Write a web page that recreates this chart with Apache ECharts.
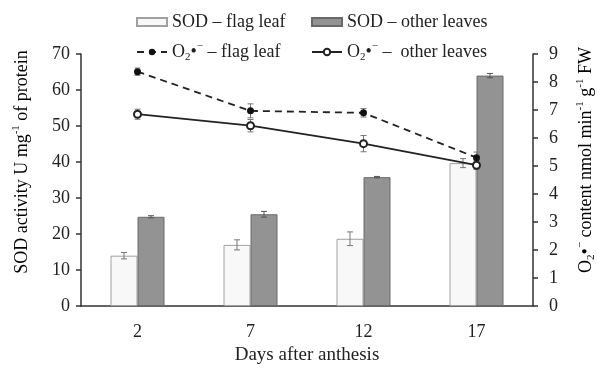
<!DOCTYPE html>
<html>
<head>
<meta charset="utf-8">
<script src="https://cdn.jsdelivr.net/npm/echarts@6/dist/echarts.min.js"></script>
<style>html,body{margin:0;padding:0;background:#fff;}#c{width:597px;height:370px;}</style>
</head>
<body>
<div id="c"></div>
<script>
const categories = ['2', '7', '12', '17'];
const sodFlag = [14.0, 17.0, 18.7, 39.7];
const sodFlagErr = [0.9, 1.4, 1.9, 1.25];
const sodOther = [24.8, 25.5, 35.8, 64.0];
const sodOtherErr = [0.3, 0.8, 0.2, 0.6];
const o2Flag = [8.37, 6.97, 6.90, 5.30];
const o2FlagErr = [0.13, 0.25, 0.15, 0.2];
const o2Other = [6.85, 6.44, 5.80, 5.03];
const o2OtherErr = [0.18, 0.22, 0.29, 0.15];
const leftTicks = { min: 0, max: 70, interval: 10 };
const rightTicks = { min: 0, max: 9, interval: 1 };

const FONT = 'Liberation Serif';
const BAR_W = 27;

function errData(vals, errs) { return vals.map((v, i) => [i, v, errs[i]]); }
function errRender(offset, color) {
  return function (params, api) {
    const x = api.value(0), v = api.value(1), e = api.value(2);
    const hi = api.coord([x, v + e]);
    const lo = api.coord([x, v - e]);
    const cx = hi[0] + offset;
    const cap = 3;
    const st = { stroke: color, lineWidth: 1 };
    return {
      type: 'group',
      children: [
        { type: 'line', shape: { x1: cx, y1: hi[1], x2: cx, y2: lo[1] }, style: st },
        { type: 'line', shape: { x1: cx - cap, y1: hi[1], x2: cx + cap, y2: hi[1] }, style: st },
        { type: 'line', shape: { x1: cx - cap, y1: lo[1], x2: cx + cap, y2: lo[1] }, style: st }
      ]
    };
  };
}

const richBase = {
  t: { fontFamily: FONT, fontSize: 18, color: '#222', lineHeight: 22 },
  sub: { fontFamily: FONT, fontSize: 11, color: '#222', lineHeight: 11, verticalAlign: 'bottom' },
  sup: { fontFamily: FONT, fontSize: 11, color: '#222', lineHeight: 11, verticalAlign: 'top' }
};
const legendLabels = {
  'SOD flag': '{t|SOD – flag leaf}',
  'SOD other': '{t|SOD – other leaves}',
  'O2 flag': '{t|O}{sub|2}{t|•}{sup|−}{t| – flag leaf}',
  'O2 other': '{t|O}{sub|2}{t|•}{sup|−}{t| –  other leaves}'
};
function mkLegend(name, left, top, icon) {
  const l = {
    data: [name], left: left, top: top, itemWidth: 30, itemHeight: 8,
    formatter: n => legendLabels[n],
    textStyle: { rich: richBase, fontFamily: FONT, fontSize: 18, color: '#222' }
  };
  if (icon) l.icon = icon;
  return l;
}

const chart = echarts.init(document.getElementById('c'));
const axisLineStyle = { color: '#333', width: 1.5 };
const labelStyle = { fontFamily: FONT, fontSize: 18, color: '#222' };

chart.setOption({
  animation: false,
  backgroundColor: '#fff',
  grid: { left: 81, right: 64, top: 54, bottom: 56 },
  legend: [
    mkLegend('SOD flag', 131, 8, 'rect'),
    mkLegend('SOD other', 306, 8, 'rect'),
    mkLegend('O2 flag', 131, 36),
    mkLegend('O2 other', 306, 36)
  ],
  xAxis: {
    type: 'category', data: categories, boundaryGap: true,
    axisLine: { lineStyle: axisLineStyle },
    axisTick: { show: false },
    axisLabel: Object.assign({ margin: 17 }, labelStyle),
    name: 'Days after anthesis', nameLocation: 'middle', nameGap: 38,
    nameTextStyle: { fontFamily: FONT, fontSize: 19, color: '#222' }
  },
  yAxis: [
    {
      type: 'value', min: leftTicks.min, max: leftTicks.max, interval: leftTicks.interval,
      axisLine: { show: true, lineStyle: axisLineStyle },
      axisTick: { show: true, length: 5, lineStyle: axisLineStyle },
      axisLabel: Object.assign({ margin: 11 }, labelStyle),
      splitLine: { show: false }
    },
    {
      type: 'value', min: rightTicks.min, max: rightTicks.max, interval: rightTicks.interval,
      position: 'right',
      axisLine: { show: true, lineStyle: axisLineStyle },
      axisTick: { show: true, length: 5, lineStyle: axisLineStyle },
      axisLabel: Object.assign({ margin: 16 }, labelStyle),
      splitLine: { show: false }
    }
  ],
  graphic: [
    {
      type: 'text', x: 22, y: 162, rotation: Math.PI / 2,
      style: {
        text: '{t|SOD activity U mg}{sup|-1}{t| of protein}',
        rich: richBase, align: 'center', verticalAlign: 'middle'
      }
    },
    {
      type: 'text', x: 586, y: 160, rotation: Math.PI / 2,
      style: {
        text: '{t|O}{sub|2}{t|•}{sup|−}{t| content nmol min}{sup|-1}{t| g}{sup|-1}{t| FW}',
        rich: richBase, align: 'center', verticalAlign: 'middle'
      }
    }
  ],
  series: [
    {
      name: 'SOD flag', type: 'bar', data: sodFlag, barWidth: BAR_W, barGap: '0%', yAxisIndex: 0,
      itemStyle: { color: '#f8f8f8', borderColor: '#a0a0a0', borderWidth: 1 }, z: 2
    },
    {
      name: 'SOD other', type: 'bar', data: sodOther, barWidth: BAR_W, barGap: '0%', yAxisIndex: 0,
      itemStyle: { color: '#939393', borderColor: '#6a6a6a', borderWidth: 1 }, z: 2
    },
    {
      type: 'custom', yAxisIndex: 0, data: errData(sodFlag, sodFlagErr),
      renderItem: errRender(-BAR_W / 2, '#777'), encode: { x: 0, y: 1 }, z: 3, silent: true
    },
    {
      type: 'custom', yAxisIndex: 0, data: errData(sodOther, sodOtherErr),
      renderItem: errRender(BAR_W / 2, '#555'), encode: { x: 0, y: 1 }, z: 3, silent: true
    },
    {
      type: 'custom', yAxisIndex: 1, data: errData(o2Flag, o2FlagErr),
      renderItem: errRender(0, '#777'), encode: { x: 0, y: 1 }, z: 4, silent: true
    },
    {
      type: 'custom', yAxisIndex: 1, data: errData(o2Other, o2OtherErr),
      renderItem: errRender(0, '#777'), encode: { x: 0, y: 1 }, z: 4, silent: true
    },
    {
      name: 'O2 flag', type: 'line', data: o2Flag, yAxisIndex: 1,
      symbol: 'circle', symbolSize: 7,
      lineStyle: { color: '#222', width: 1.8, type: [7, 5] },
      itemStyle: { color: '#111' }, z: 5
    },
    {
      name: 'O2 other', type: 'line', data: o2Other, yAxisIndex: 1,
      symbol: 'emptyCircle', symbolSize: 7,
      lineStyle: { color: '#222', width: 1.8 },
      itemStyle: { color: '#222', borderWidth: 1.2 }, z: 5
    }
  ]
});
</script>
</body>
</html>
